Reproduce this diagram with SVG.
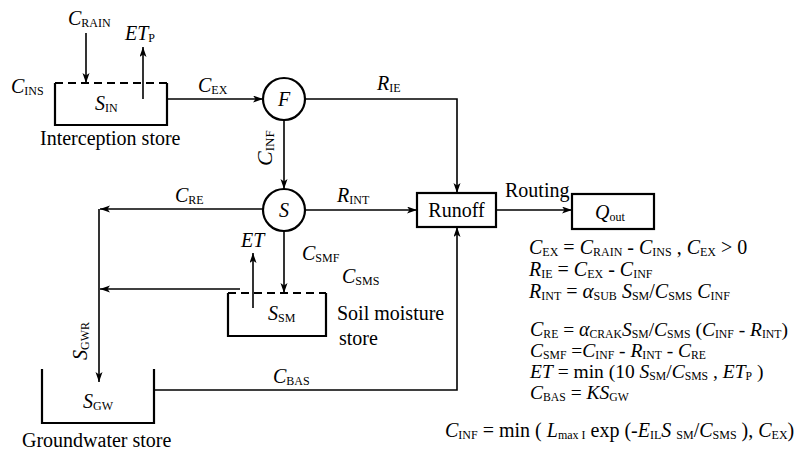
<svg xmlns="http://www.w3.org/2000/svg" width="805" height="451" viewBox="0 0 805 451">
<style>
text{font-family:"Liberation Serif","Times New Roman",serif;font-size:20px;fill:#000}
.i{font-style:italic}
.a{font-style:italic;font-size:21px}
.s{font-size:12px;font-style:normal;baseline-shift:-1.5px}
.eq{font-size:19.5px}
.eq .s{font-size:11.7px}
.eq .a{font-size:20px}
.ln{fill:none;stroke:#000;stroke-width:1.6}
.box{fill:none;stroke:#000;stroke-width:2.2}
.dash{fill:none;stroke:#000;stroke-width:2.2;stroke-dasharray:8,5}
.arr{marker-end:url(#ah)}
</style>
<defs>
<marker id="ah" markerUnits="userSpaceOnUse" markerWidth="11" markerHeight="8" refX="10" refY="3.5" orient="auto">
<path d="M0,0 L10,3.5 L0,7 L2.5,3.5 Z" fill="#000"/>
</marker>
</defs>
<rect width="805" height="451" fill="#fff"/>

<g id="connectors">
<line class="ln arr" x1="86" y1="33" x2="86" y2="83"/>
<line class="ln arr" x1="143" y1="99" x2="143" y2="47"/>
<line class="ln arr" x1="167" y1="99" x2="263" y2="99"/>
<path class="ln arr" d="M305,99 H457 V193"/>
<line class="ln arr" x1="284" y1="120" x2="284" y2="189"/>
<line class="ln arr" x1="305" y1="210" x2="417" y2="210"/>
<line class="ln arr" x1="496" y1="210" x2="572" y2="210"/>
<line class="ln arr" x1="263" y1="209" x2="100" y2="209"/>
<line class="ln arr" x1="99" y1="209" x2="99" y2="382"/>
<line class="ln arr" x1="240" y1="289" x2="100" y2="289"/>
<line class="ln arr" x1="253" y1="308" x2="253" y2="253"/>
<line class="ln arr" x1="284" y1="231" x2="284" y2="293"/>
<path class="ln arr" d="M154,390 H457 V227"/>
<text x="198" y="92"><tspan class="i">C</tspan><tspan class="s">EX</tspan></text>
<text x="377" y="90"><tspan class="i">R</tspan><tspan class="s">IE</tspan></text>
<text transform="translate(272,166) rotate(-90)" style="font-size:22px"><tspan class="i">C</tspan><tspan class="s" style="font-size:13px">INF</tspan></text>
<text x="337" y="202"><tspan class="i">R</tspan><tspan class="s">INT</tspan></text>
<text x="175" y="202"><tspan class="i">C</tspan><tspan class="s">RE</tspan></text>
<text x="241" y="247" class="i">ET</text>
<text x="302" y="260"><tspan class="i">C</tspan><tspan class="s">SMF</tspan></text>
<text x="342" y="283"><tspan class="i">C</tspan><tspan class="s">SMS</tspan></text>
<text transform="translate(87,360) rotate(-90)"><tspan class="i">S</tspan><tspan class="s">GWR</tspan></text>
<text x="273" y="383"><tspan class="i">C</tspan><tspan class="s">BAS</tspan></text>
<text x="505" y="197">Routing</text>
<text x="68" y="25"><tspan class="i">C</tspan><tspan class="s">RAIN</tspan></text>
<text x="125" y="40"><tspan class="i">ET</tspan><tspan class="s">P</tspan></text>
</g>

<g id="interception-store">
<path class="box" d="M55,83 V125 H167 V83"/>
<line class="dash" x1="55" y1="83" x2="167" y2="83"/>
<text x="95" y="110"><tspan class="i">S</tspan><tspan class="s">IN</tspan></text>
<text x="11" y="93"><tspan class="i">C</tspan><tspan class="s">INS</tspan></text>
<text x="40" y="145">Interception store</text>
</g>

<g id="node-F">
<circle cx="284" cy="99" r="21" class="box"/>
<text x="284" y="106" class="i" text-anchor="middle">F</text>
</g>

<g id="node-S">
<circle cx="284" cy="210" r="21" class="box"/>
<text x="284" y="217" class="i" text-anchor="middle">S</text>
</g>

<g id="runoff">
<rect x="417" y="193" width="79" height="34" class="box"/>
<text x="456.5" y="217" text-anchor="middle">Runoff</text>
</g>

<g id="qout">
<rect x="572" y="194" width="82" height="35" class="box"/>
<text x="595" y="219"><tspan class="i">Q</tspan><tspan class="s">out</tspan></text>
</g>

<g id="soil-moisture-store">
<path class="box" d="M228,293 V336 H326 V293"/>
<line class="dash" x1="228" y1="293" x2="326" y2="293"/>
<text x="268" y="320"><tspan class="i">S</tspan><tspan class="s">SM</tspan></text>
<text x="337" y="320">Soil moisture</text>
<text x="339" y="345">store</text>
</g>

<g id="groundwater-store">
<path class="box" d="M42,369 V423 H154 V369"/>
<text x="83" y="408"><tspan class="i">S</tspan><tspan class="s">GW</tspan></text>
<text x="22" y="447">Groundwater store</text>
</g>

<g id="equations">
<text x="529" y="254"><tspan class="i">C</tspan><tspan class="s">EX</tspan> = <tspan class="i">C</tspan><tspan class="s">RAIN</tspan> - <tspan class="i">C</tspan><tspan class="s">INS</tspan> , <tspan class="i">C</tspan><tspan class="s">EX</tspan> &gt; 0</text>
<text x="529" y="276"><tspan class="i">R</tspan><tspan class="s">IE</tspan> = <tspan class="i">C</tspan><tspan class="s">EX</tspan> - <tspan class="i">C</tspan><tspan class="s">INF</tspan></text>
<text x="529" y="298"><tspan class="i">R</tspan><tspan class="s">INT</tspan> = <tspan class="a">α</tspan><tspan class="s">SUB</tspan> <tspan class="i">S</tspan><tspan class="s">SM</tspan>/<tspan class="i">C</tspan><tspan class="s">SMS</tspan> <tspan class="i">C</tspan><tspan class="s">INF</tspan></text>
<text class="eq" x="530" y="336"><tspan class="a">C</tspan><tspan class="s">RE</tspan> = <tspan class="a">α</tspan><tspan class="s">CRAK</tspan><tspan class="i">S</tspan><tspan class="s">SM</tspan>/<tspan class="i">C</tspan><tspan class="s">SMS</tspan> (<tspan class="i">C</tspan><tspan class="s">INF</tspan> - <tspan class="i">R</tspan><tspan class="s">INT</tspan>)</text>
<text class="eq" x="530" y="357"><tspan class="i">C</tspan><tspan class="s">SMF</tspan> =<tspan class="i">C</tspan><tspan class="s">INF</tspan> - <tspan class="i">R</tspan><tspan class="s">INT</tspan> - <tspan class="i">C</tspan><tspan class="s">RE</tspan></text>
<text class="eq" x="530" y="378"><tspan class="i">ET</tspan> = min (10 <tspan class="i">S</tspan><tspan class="s">SM</tspan>/<tspan class="i">C</tspan><tspan class="s">SMS</tspan> , <tspan class="i">ET</tspan><tspan class="s">P</tspan> )</text>
<text class="eq" x="530" y="399"><tspan class="i">C</tspan><tspan class="s">BAS</tspan> = <tspan class="i">KS</tspan><tspan class="s">GW</tspan></text>
<text x="445" y="437"><tspan class="i">C</tspan><tspan class="s">INF</tspan> = min ( <tspan class="i">L</tspan><tspan class="s">max I</tspan> exp (-<tspan class="i">E</tspan><tspan class="s">IL</tspan><tspan class="i">S</tspan> <tspan class="s">SM</tspan>/<tspan class="i">C</tspan><tspan class="s">SMS</tspan> ), <tspan class="i">C</tspan><tspan class="s">EX</tspan>)</text>
</g>
</svg>
